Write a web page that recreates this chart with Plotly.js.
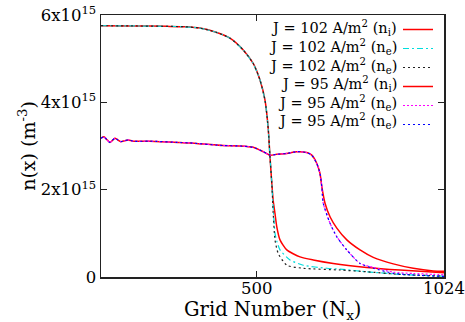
<!DOCTYPE html>
<html>
<head>
<meta charset="utf-8">
<script src="https://cdn.plot.ly/plotly-3.0.1.min.js"></script>
<style>html,body{margin:0;padding:0;background:#fff;}#chart{width:465px;height:322px;}</style>
</head>
<body>
<div id="chart"></div>
<script>
// Densities in units of 10^15 m^-3, x = grid number
const labels = [
  'J = 102 A/m<sup>2</sup> (n<sub>i</sub>)',
  'J = 102 A/m<sup>2</sup> (n<sub>e</sub>)',
  'J = 102 A/m<sup>2</sup> (n<sub>e</sub>)',
  'J = 95 A/m<sup>2</sup> (n<sub>i</sub>)',
  'J = 95 A/m<sup>2</sup> (n<sub>e</sub>)',
  'J = 95 A/m<sup>2</sup> (n<sub>e</sub>)'
];
const xTitle = 'Grid Number (N<sub>x</sub>)';
const yTitle = 'n(x) (m<sup>-3</sup>)';
const yTickVals = [0, 2, 4, 6];
const yTickText = ['0', '2x10<sup>15</sup>', '4x10<sup>15</sup>', '6x10<sup>15</sup>'];
const xTickVals = [500, 1024];

const x102i = [64, 150, 250, 300, 341, 388, 425, 462, 490, 509, 523, 532, 537, 542, 546, 551, 556, 565, 584, 621, 658, 714, 808, 901, 1024];
const y102i = [5.755, 5.75, 5.74, 5.73, 5.70, 5.60, 5.47, 5.20, 4.89, 4.51, 4.05, 3.40, 2.75, 2.15, 1.75, 1.45, 1.15, 0.85, 0.62, 0.46, 0.39, 0.31, 0.22, 0.16, 0.10];

const x102eA = [64, 150, 250, 300, 341, 388, 425, 462, 490, 509, 523, 532, 537, 542, 546, 551, 556, 565, 593, 630, 696, 733, 808, 901, 1024];
const y102eA = [5.755, 5.75, 5.74, 5.73, 5.70, 5.60, 5.47, 5.20, 4.89, 4.51, 4.05, 3.40, 2.75, 2.15, 1.60, 1.00, 0.82, 0.62, 0.39, 0.27, 0.20, 0.18, 0.12, 0.06, 0.02];

const x102eB = [64, 150, 250, 300, 341, 388, 425, 462, 490, 509, 523, 532, 537, 542, 546, 551, 560, 584, 630, 733, 808, 901, 1024];
const y102eB = [5.755, 5.75, 5.74, 5.73, 5.70, 5.60, 5.47, 5.20, 4.89, 4.51, 4.05, 3.40, 2.75, 2.15, 1.46, 0.85, 0.54, 0.27, 0.20, 0.16, 0.12, 0.06, 0.02];

const x95i = [64, 72, 80, 89, 96, 103, 111, 119, 130, 140, 154, 201, 285, 313, 406, 453, 490, 518, 537, 556, 584, 612, 640, 654, 668, 677, 682, 691, 705, 724, 752, 789, 826, 882, 938, 994, 1024];
const y95i = [3.18, 3.21, 3.15, 3.08, 3.13, 3.18, 3.14, 3.10, 3.12, 3.14, 3.11, 3.11, 3.08, 3.07, 3.01, 3.00, 2.97, 2.87, 2.79, 2.81, 2.83, 2.87, 2.85, 2.79, 2.60, 2.37, 2.07, 1.69, 1.38, 1.12, 0.85, 0.62, 0.45, 0.30, 0.20, 0.14, 0.13];

const x95eA = [64, 72, 80, 89, 96, 103, 111, 119, 130, 140, 154, 201, 285, 313, 406, 453, 490, 518, 537, 556, 584, 612, 640, 654, 668, 677, 682, 686, 705, 724, 752, 789, 826, 882, 938, 994, 1024];
const y95eA = [3.18, 3.21, 3.15, 3.08, 3.13, 3.18, 3.14, 3.10, 3.12, 3.14, 3.11, 3.11, 3.08, 3.07, 3.01, 3.00, 2.97, 2.87, 2.79, 2.81, 2.83, 2.87, 2.85, 2.79, 2.60, 2.37, 2.07, 1.69, 1.23, 0.92, 0.62, 0.31, 0.22, 0.11, 0.08, 0.06, 0.05];

const x95eB = [64, 72, 80, 89, 96, 103, 111, 119, 130, 140, 154, 201, 285, 313, 406, 453, 490, 518, 537, 556, 584, 612, 640, 654, 668, 677, 682, 686, 705, 724, 752, 789, 826, 882, 938, 1024];
const y95eB = [3.18, 3.21, 3.15, 3.08, 3.13, 3.18, 3.14, 3.10, 3.12, 3.14, 3.11, 3.11, 3.08, 3.07, 3.01, 3.00, 2.97, 2.87, 2.79, 2.81, 2.83, 2.87, 2.85, 2.79, 2.60, 2.37, 2.07, 1.69, 1.23, 0.92, 0.62, 0.31, 0.20, 0.085, 0.046, 0.01];

const FONT = "DejaVu Serif";

const series = [
  {x: x102i, y: y102i, color: '#ff0000', dash: 'solid', width: 1.5},
  {x: x102eA, y: y102eA, color: '#00dddd', dash: '6px,3px,2px,3px', width: 1.2},
  {x: x102eB, y: y102eB, color: '#222222', dash: '2px,3px', width: 1.2},
  {x: x95i, y: y95i, color: '#ff0000', dash: 'solid', width: 1.5},
  {x: x95eA, y: y95eA, color: '#ff00ff', dash: '2px,2px', width: 1.2},
  {x: x95eB, y: y95eB, color: '#0000ff', dash: '2px,3px', width: 1.2}
];

const traces = series.map((s, i) => ({
  type: 'scatter', mode: 'lines', x: s.x, y: s.y, name: ' ',
  line: {color: s.color, dash: s.dash, width: s.width, shape: 'spline', smoothing: 0.6},
  showlegend: true
}));

// legend text (right-aligned, left of the legend samples)
const rowTop = 28.3, rowGap = 18.6; // px
const annotations = labels.map((t, i) => ({
  text: t, showarrow: false, xref: 'paper', yref: 'paper',
  x: (399 - 101) / 343, xanchor: 'right',
  y: (277 - (rowTop + i * rowGap)) / 262, yanchor: 'middle',
  font: {family: FONT, size: 14.5, color: '#000'}
}));
annotations.push({
  text: xTitle, showarrow: false, xref: 'paper', yref: 'paper',
  x: (272 - 101) / 343, xanchor: 'center', y: (277 - 310) / 262, yanchor: 'middle',
  font: {family: FONT, size: 19.5, color: '#000'}
});

const layout = {
  width: 465, height: 322,
  margin: {l: 101, r: 21, t: 15, b: 45},
  paper_bgcolor: '#fff', plot_bgcolor: '#fff',
  font: {family: FONT, color: '#000', size: 16},
  showlegend: true,
  legend: {
    x: (398 - 101) / 343, xanchor: 'left', y: 1.0, yanchor: 'top',
    bgcolor: 'rgba(0,0,0,0)', font: {family: FONT, size: 9}, tracegroupgap: 0, itemwidth: 30
  },
  xaxis: {
    range: [64, 1024], tickvals: xTickVals, ticktext: xTickVals.map(String),
    ticks: 'inside', ticklen: 6, tickwidth: 1, tickcolor: '#222',
    mirror: 'ticks', showline: true, linecolor: '#222', linewidth: 1.5,
    showgrid: false, zeroline: false, automargin: false,
    tickfont: {family: FONT, size: 16.5}, ticklabelstandoff: -4
  },
  yaxis: {
    range: [0, 6], tickvals: yTickVals, ticktext: yTickText,
    ticks: 'inside', ticklen: 6, tickwidth: 1, tickcolor: '#222',
    mirror: 'ticks', showline: true, linecolor: '#222', linewidth: 1.5,
    showgrid: false, zeroline: false, automargin: false,
    tickfont: {family: FONT, size: 16.5},
    title: {text: yTitle, font: {family: FONT, size: 19}, standoff: 0}
  },
  annotations: annotations
};

Plotly.newPlot('chart', traces, layout, {displayModeBar: false, staticPlot: true});
</script>
</body>
</html>
